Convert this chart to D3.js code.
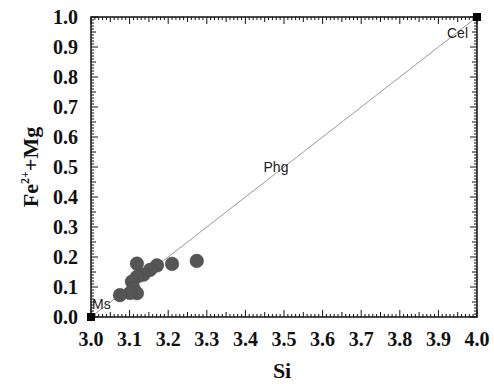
<!DOCTYPE html>
<html>
<head>
<meta charset="utf-8">
<script src="https://cdn.jsdelivr.net/npm/d3@7"></script>
<style>
  body { margin: 0; background: #fff; }
  svg { display: block; }
</style>
</head>
<body>
<svg id="chart" width="494" height="384"></svg>
<script>
// Si (apfu) vs Fe2+ + Mg, white mica analyses
const siValues = [3.119, 3.210, 3.274, 3.171, 3.153, 3.136, 3.119, 3.106, 3.110, 3.119, 3.101, 3.075];
const feMgValues = [0.178, 0.177, 0.187, 0.172, 0.157, 0.141, 0.134, 0.118, 0.096, 0.079, 0.080, 0.073];

// muscovite - celadonite substitution line
const endMembers = [
  { name: "Ms", si: 3.0, feMg: 0.0 },
  { name: "Cel", si: 4.0, feMg: 1.0 }
];
const midLabel = { name: "Phg", si: 3.5, feMg: 0.5 };

const xTicks = [3.0, 3.1, 3.2, 3.3, 3.4, 3.5, 3.6, 3.7, 3.8, 3.9, 4.0];
const yTicks = [0.0, 0.1, 0.2, 0.3, 0.4, 0.5, 0.6, 0.7, 0.8, 0.9, 1.0];

const svg = d3.select("#chart");
const margin = { top: 17, right: 17, bottom: 67, left: 91 };
const width = 494 - margin.left - margin.right;
const height = 384 - margin.top - margin.bottom;

const g = svg.append("g").attr("transform", `translate(${margin.left},${margin.top})`);

const x = d3.scaleLinear().domain([3.0, 4.0]).range([0, width]);
const y = d3.scaleLinear().domain([0, 1]).range([height, 0]);

// minor ticks every 0.01, medium every 0.05
const minor = d3.range(0, 101).map((i) => i / 100);
function tickLen(i) {
  if (i % 10 === 0) return 7;
  if (i % 5 === 0) return 5;
  return 3;
}

const tickG = g.append("g").attr("stroke", "#111").attr("stroke-width", 1);
minor.forEach((f, i) => {
  const xv = x(3 + f);
  const yv = y(f);
  const l = tickLen(i);
  tickG.append("line").attr("x1", xv).attr("x2", xv).attr("y1", height).attr("y2", height - l);
  tickG.append("line").attr("x1", xv).attr("x2", xv).attr("y1", 0).attr("y2", l);
  tickG.append("line").attr("x1", 0).attr("x2", l).attr("y1", yv).attr("y2", yv);
  tickG.append("line").attr("x1", width).attr("x2", width - l).attr("y1", yv).attr("y2", yv);
});

g.append("rect")
  .attr("width", width)
  .attr("height", height)
  .attr("fill", "none")
  .attr("stroke", "#111")
  .attr("stroke-width", 1.5);

// tick labels
const labelFont = "Liberation Serif, Times New Roman, serif";
g.append("g")
  .selectAll("text")
  .data(xTicks)
  .join("text")
  .attr("x", (d) => x(d))
  .attr("y", height + 29)
  .attr("text-anchor", "middle")
  .attr("font-family", labelFont)
  .attr("font-weight", "bold")
  .attr("font-size", 20)
  .attr("fill", "#111")
  .text((d) => d.toFixed(1));

g.append("g")
  .selectAll("text")
  .data(yTicks)
  .join("text")
  .attr("x", -13)
  .attr("y", (d) => y(d))
  .attr("dy", "0.35em")
  .attr("text-anchor", "end")
  .attr("font-family", labelFont)
  .attr("font-weight", "bold")
  .attr("font-size", 20)
  .attr("fill", "#111")
  .text((d) => d.toFixed(1));

// axis titles
svg.append("text")
  .attr("x", margin.left + x(3.495))
  .attr("y", 378)
  .attr("text-anchor", "middle")
  .attr("font-family", labelFont)
  .attr("font-weight", "bold")
  .attr("font-size", 22)
  .attr("fill", "#111")
  .text("Si");

const yTitle = svg.append("text")
  .attr("transform", `translate(38,${margin.top + y(0.5)}) rotate(-90)`)
  .attr("text-anchor", "middle")
  .attr("font-family", labelFont)
  .attr("font-weight", "bold")
  .attr("font-size", 22)
  .attr("fill", "#111");
yTitle.append("tspan").text("Fe");
yTitle.append("tspan").attr("dy", -9).attr("font-size", 12).text("2+");
yTitle.append("tspan").attr("dy", 9).text("+Mg");

// substitution line
g.append("line")
  .attr("x1", x(endMembers[0].si))
  .attr("y1", y(endMembers[0].feMg))
  .attr("x2", x(endMembers[1].si))
  .attr("y2", y(endMembers[1].feMg))
  .attr("stroke", "#999")
  .attr("stroke-width", 1);

// data points
g.append("g")
  .selectAll("circle")
  .data(siValues)
  .join("circle")
  .attr("cx", (d) => x(d))
  .attr("cy", (d, i) => y(feMgValues[i]))
  .attr("r", 6.8)
  .attr("fill", "#555")
  .attr("stroke", "#4a4a4a")
  .attr("stroke-width", 0.5);

// end member squares
g.append("g")
  .selectAll("rect")
  .data(endMembers)
  .join("rect")
  .attr("x", (d) => x(d.si) - 4)
  .attr("y", (d) => y(d.feMg) - 4)
  .attr("width", 8)
  .attr("height", 8)
  .attr("fill", "#000");

const labFont = "Liberation Sans, Arial, sans-serif";
g.append("text")
  .attr("x", x(3.0) + 1)
  .attr("y", y(0.0) - 8)
  .attr("font-family", labFont)
  .attr("font-size", 14)
  .attr("fill", "#222")
  .text(endMembers[0].name);

g.append("text")
  .attr("x", x(4.0) - 9)
  .attr("y", y(1.0) + 21)
  .attr("text-anchor", "end")
  .attr("font-family", labFont)
  .attr("font-size", 14)
  .attr("fill", "#222")
  .text(endMembers[1].name);

g.append("text")
  .attr("x", x(midLabel.si) - 8)
  .attr("y", y(midLabel.feMg) + 5)
  .attr("text-anchor", "middle")
  .attr("font-family", labFont)
  .attr("font-size", 14)
  .attr("fill", "#222")
  .text(midLabel.name);
</script>
</body>
</html>
